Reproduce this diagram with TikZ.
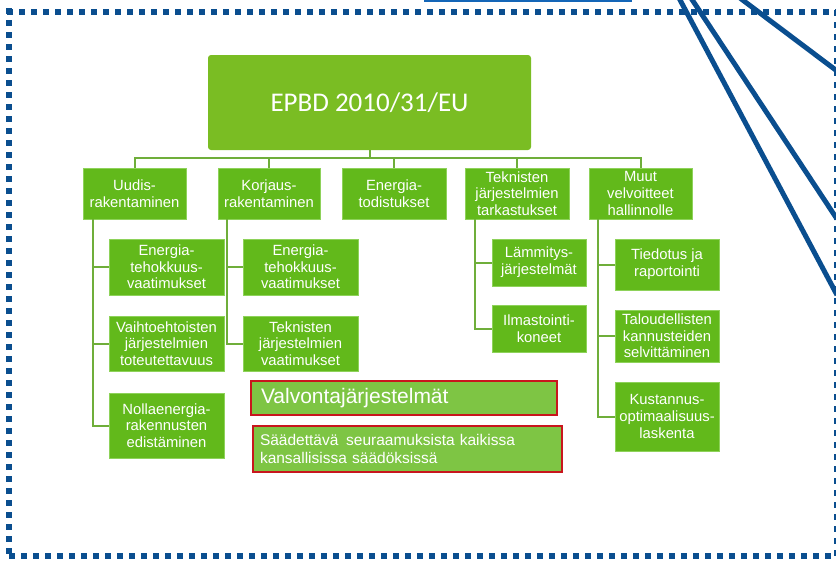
\documentclass[tikz,border=0pt]{standalone}
\usepackage{fontspec}
\setmainfont{Liberation Sans}
\newfontfamily\titlefont{Carlito}
\definecolor{mainG}{HTML}{7ABD23}
\definecolor{boxG}{HTML}{62B91B}
\definecolor{boxEdge}{HTML}{8ED25A}
\definecolor{redG}{HTML}{7EC544}
\definecolor{redEdge}{HTML}{C8161D}
\definecolor{lineG}{HTML}{6FAE3A}
\definecolor{frameB}{HTML}{0A4E8F}
\definecolor{topB}{HTML}{1466B8}
\tikzset{
  mainbox/.style={fill=mainG, rounded corners=3pt, text=white, font=\titlefont\fontsize{27}{30}\selectfont, inner sep=0pt},
  kbox/.style={fill=boxG, draw=boxEdge, line width=0.8pt, text=white, align=center, inner sep=0pt, font=\fontsize{14.8}{16.7}\selectfont},
  rbox/.style={fill=redG, draw=redEdge, line width=1.3pt, text=white, align=left, inner sep=0pt, text width=#1},
  conn/.style={draw=lineG, line width=2pt},
  frameline/.style={draw=frameB, line width=6pt, dash pattern=on 6pt off 6pt},
  diag/.style={draw=frameB, line width=5pt}
}
\begin{document}
\begin{tikzpicture}[x=1pt,y=-1pt]
\useasboundingbox (0,0) rectangle (836,562);
\begin{scope}
\clip (0,0) rectangle (836,562);
% top decorations
\draw[topB, line width=2.5pt] (424,0.5) -- (632,0.5);
\coordinate (d1a) at (679,-2); \coordinate (d1b) at (837,295);
\coordinate (d2a) at (691,-2); \coordinate (d2b) at (837,219);
\coordinate (d3a) at (740,-2); \coordinate (d3b) at (837,71);
\draw[diag] (d1a) -- (d1b);
\draw[diag] (d2a) -- (d2b);
\draw[diag] (d3a) -- (d3b);
% dotted frame
\coordinate (ft) at (7,12);
\coordinate (ftr) at (840,12);
\coordinate (fl) at (9,8);
\coordinate (flb) at (9,558);
\coordinate (fb) at (9,556);
\coordinate (fbr) at (836,556);
\coordinate (fr) at (837,10);
\coordinate (frb) at (837,560);
\draw[frameline] (ft) -- (ftr);
\draw[frameline] (fl) -- (flb);
\draw[frameline] (fb) -- (fbr);
\draw[frameline] (fr) -- (frb);
\end{scope}

% main box
\node[mainbox, minimum width=323pt, minimum height=95pt] (main) at (369.5,102.5) {EPBD 2010/31/EU};

% level 1
\node[kbox, minimum width=103pt, minimum height=51pt] (u) at (134.5,193.5) {Uudis-\\rakentaminen};
\node[kbox, minimum width=102pt, minimum height=51pt] (k) at (269,193.5) {Korjaus-\\rakentaminen};
\node[kbox, minimum width=104pt, minimum height=51pt] (e) at (394,193.5) {Energia-\\todistukset};
\node[kbox, minimum width=104pt, minimum height=51pt] (t) at (517,193.5) {Teknisten\\järjestelmien\\tarkastukset};
\node[kbox, minimum width=103pt, minimum height=51pt] (m) at (640.5,193.5) {Muut\\velvoitteet\\hallinnolle};

% level 2
\node[kbox, minimum width=115pt, minimum height=56pt] (u1) at (166.5,267) {Energia-\\tehokkuus-\\vaatimukset};
\node[kbox, minimum width=115pt, minimum height=55pt] (u2) at (166.5,343.5) {Vaihtoehtoisten\\järjestelmien\\toteutettavuus};
\node[kbox, minimum width=115pt, minimum height=65pt] (u3) at (166.5,425.5) {Nollaenergia-\\rakennusten\\edistäminen};
\node[kbox, minimum width=115pt, minimum height=56pt] (k1) at (300.5,267) {Energia-\\tehokkuus-\\vaatimukset};
\node[kbox, minimum width=115pt, minimum height=55pt] (k2) at (300.5,343.5) {Teknisten\\järjestelmien\\vaatimukset};
\node[kbox, minimum width=94pt, minimum height=47pt] (t1) at (539,262.5) {Lämmitys-\\järjestelmät};
\node[kbox, minimum width=94pt, minimum height=47pt] (t2) at (539,328.5) {Ilmastointi-\\koneet};
\node[kbox, minimum width=104pt, minimum height=51pt] (m1) at (667,264.5) {Tiedotus ja\\raportointi};
\node[kbox, minimum width=104pt, minimum height=52pt] (m2) at (667,336) {Taloudellisten\\kannusteiden\\selvittäminen};
\node[kbox, minimum width=104pt, minimum height=69pt] (m3) at (667,416.5) {Kustannus-\\optimaalisuus-\\laskenta};

% red-bordered boxes
\node[rbox=286pt, minimum width=306pt, minimum height=34pt, font=\fontsize{21}{24}\selectfont] (v) at (404,398) {Valvontajärjestelmät};
\node[rbox=295pt, minimum width=309pt, minimum height=46pt, font=\fontsize{15.5}{17.8}\selectfont] (s) at (407.5,449) {Säädettävä\, seuraamuksista kaikissa\\kansallisissa säädöksissä};

% connectors
\coordinate (bus) at (0,158);
\draw[conn] (main.south) -- (main.south |- bus);
\draw[conn] (u.north) -- (u.north |- bus) -| (m.north);
\draw[conn] (k.north) -- (k.north |- bus);
\draw[conn] (e.north) -- (e.north |- bus);
\draw[conn] (t.north) -- (t.north |- bus);

\coordinate (uL) at ([xshift=10pt]u.south west);
\coordinate (kL) at ([xshift=9pt]k.south west);
\coordinate (tL) at ([xshift=10pt]t.south west);
\coordinate (mL) at ([xshift=9pt]m.south west);
\draw[conn] (uL) |- (u1.west);
\draw[conn] (uL) |- (u2.west);
\draw[conn] (uL) |- (u3.west);
\draw[conn] (kL) |- (k1.west);
\draw[conn] (kL) |- (k2.west);
\draw[conn] (tL) |- (t1.west);
\draw[conn] (tL) |- (t2.west);
\draw[conn] (mL) |- (m1.west);
\draw[conn] (mL) |- (m2.west);
\draw[conn] (mL) |- (m3.west);
\end{tikzpicture}
\end{document}
